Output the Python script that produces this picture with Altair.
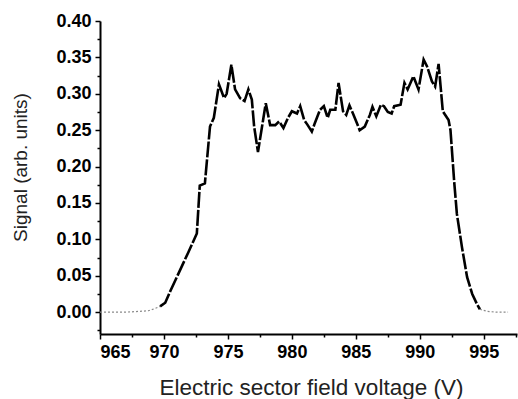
import altair as alt
import pandas as pd

# Main signal trace (electric sector field voltage in V, signal in arb. units)
main_x = [969.7, 970.1, 970.5, 971.0, 971.9, 972.57, 972.8, 973.2, 973.6, 973.9,
          974.3, 974.7, 974.9, 975.27, 975.56, 975.95, 976.3, 976.6, 976.87, 977.05,
          977.35, 977.65, 977.96, 978.3, 978.7, 979.0, 979.34, 979.7, 980.0, 980.4,
          980.65, 980.96, 981.2, 981.56, 981.8, 982.2, 982.5, 982.8, 983.0, 983.4,
          983.65, 984.0, 984.25, 984.5, 984.8, 985.08, 985.3, 985.7, 986.1, 986.3,
          986.6, 986.96, 987.2, 987.5, 987.8, 988.0, 988.5, 988.8, 989.05, 989.5,
          989.9, 990.3, 990.56, 990.95, 991.2, 991.47, 991.8, 992.25, 992.4, 992.7,
          992.9, 993.3, 993.7, 994.1, 994.5, 994.7]
main_y = [0.008, 0.013, 0.029, 0.048, 0.082, 0.108, 0.174, 0.177, 0.255, 0.267,
          0.313, 0.294, 0.300, 0.340, 0.306, 0.294, 0.290, 0.306, 0.292, 0.255,
          0.220, 0.253, 0.287, 0.257, 0.257, 0.262, 0.253, 0.267, 0.276, 0.273,
          0.283, 0.264, 0.258, 0.248, 0.260, 0.278, 0.283, 0.267, 0.278, 0.278,
          0.315, 0.276, 0.271, 0.284, 0.272, 0.260, 0.250, 0.255, 0.271, 0.282,
          0.269, 0.285, 0.283, 0.275, 0.273, 0.283, 0.285, 0.315, 0.306, 0.324,
          0.306, 0.347, 0.338, 0.317, 0.310, 0.341, 0.276, 0.264, 0.250, 0.177,
          0.135, 0.089, 0.048, 0.025, 0.010, 0.004]

# Baseline (background) stretches on either side of the peak
tail_left_x = [965.0, 966.0, 967.0, 968.0, 968.8, 969.3, 969.7]
tail_left_y = [0.0, 0.0, 0.0, 0.001, 0.002, 0.005, 0.008]
tail_right_x = [994.7, 995.3, 996.0, 996.9]
tail_right_y = [0.004, 0.001, 0.0, 0.0]

x_ticks = [965 + 2.5 * i for i in range(14)]
y_ticks = [round(-0.025 + 0.025 * i, 3) for i in range(18)]

main_df = pd.DataFrame({"V": main_x, "S": main_y})
tail_df = pd.DataFrame({
    "V": tail_left_x + tail_right_x,
    "S": tail_left_y + tail_right_y,
    "side": ["left"] * len(tail_left_x) + ["right"] * len(tail_right_x),
})

x_scale = alt.Scale(domain=[965, 997.6], nice=False, zero=False)
y_scale = alt.Scale(domain=[-0.03, 0.40], nice=False, zero=False)

x_axis = alt.Axis(
    title="Electric sector field voltage (V)",
    values=x_ticks,
    labelExpr="datum.value % 5 == 0 ? format(datum.value, 'd') : ''",
    tickSize={"condition": {"test": "datum.value % 5 == 0", "value": 5}, "value": 3},
    labelOverlap=False,
    labelPadding=4,
    titleX=211, titleY=53, titleAlign="center", titleBaseline="middle",
    titleFontSize=22.5,
)
y_axis = alt.Axis(
    title="Signal (arb. units)",
    values=y_ticks,
    labelExpr="abs(round(datum.value * 20) - datum.value * 20) < 0.01 ? format(datum.value, '.2f') : ''",
    tickSize={"condition": {"test": "abs(round(datum.value * 20) - datum.value * 20) < 0.01", "value": 5}, "value": 3},
    labelOverlap=False,
    labelPadding=4,
    titleX=-80, titleY=146, titleAlign="center", titleBaseline="middle", titleAngle=-90,
    titleFontSize=19,
)

tails = alt.Chart(tail_df).mark_line(
    color="#8a8a8a", strokeWidth=1.2, strokeDash=[2, 2]
).encode(
    x=alt.X("V:Q", scale=x_scale, axis=x_axis),
    y=alt.Y("S:Q", scale=y_scale, axis=y_axis),
    detail="side:N",
)

trace = alt.Chart(main_df).mark_line(
    color="black", strokeWidth=2.6, strokeDash=[16, 2]
).encode(
    x=alt.X("V:Q", scale=x_scale, axis=x_axis),
    y=alt.Y("S:Q", scale=y_scale, axis=y_axis),
)

chart = alt.layer(tails, trace).properties(
    width=417,
    height=313,
    autosize=alt.AutoSizeParams(type="none"),
    padding={"left": 100, "top": 21, "right": 1, "bottom": 65},
).configure_view(
    stroke=None
).configure_axis(
    grid=False,
    domainColor="black",
    domainWidth=2,
    tickColor="black",
    tickWidth=1.5,
    labelFont="Liberation Sans",
    labelFontWeight="bold",
    labelFontSize=18,
    labelColor="black",
    titleFont="Liberation Sans",
    titleFontWeight="normal",
    titleColor="#222222",
)

chart.save("out.html", embed_options={"renderer": "svg", "actions": False})
